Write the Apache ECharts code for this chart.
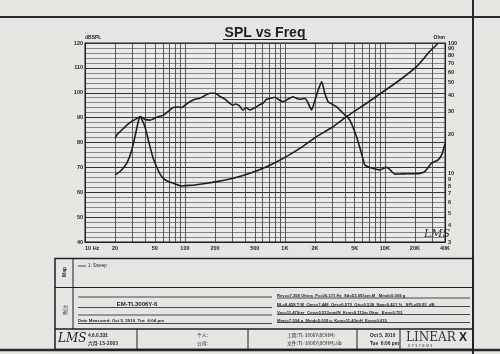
<!DOCTYPE html>
<html><head><meta charset="utf-8">
<script src="https://cdn.jsdelivr.net/npm/echarts@6/dist/echarts.min.js"></script>
<style>html,body{margin:0;padding:0;background:#e5e5e2;}#c{width:500px;height:354px;}</style>
</head><body><div id="c"></div>
<script>
// ---- data ----
const splFreq = [20,21,22.4,25,28.2,31,34.7,35.5,37.5,39.8,44.7,48,52,61,68,76,85,92.6,100,112,126,141,160,178,200,224,250,275,300,320,350,380,410,447,521,560,604,656,720,794,870,962,1080,1205,1300,1413,1585,1700,1849,2000,2150,2333,2500,2710,3000,3283,3600,3981,4467,5210,5834,6310,7000,7627,8913,10330,11000,12590,15000,20000,22390,25120,29200,34150,37000,40000];
const splDb = [81.7,83.3,84.3,86.2,88,89,90.1,90.4,90,89.3,89,89.4,90.1,91,92.5,94.1,94.3,94.1,95,96.4,97.4,97.8,99,99.8,99.8,98.5,97.5,96,95,95.5,94.8,93,94,93.1,94.4,95.2,95.8,97.4,97.8,98.2,97.2,96.4,97.5,98.4,97.8,97.4,97.8,96,93.1,97,101,104.4,100,96.4,95.3,94.4,92.8,91.1,89,82.3,75.7,71,70,69.6,69,70,69.5,67.3,67.4,67.5,67.6,68.3,71.6,73,75,79.5];
const zFreq = [20,22.4,26.1,29.4,31.6,34.1,35.5,37,39.8,42,44.7,48,52.1,56,60.7,68,76.4,92.6,100,126,160,207,304,447,656,962,1413,2075,3041,4140,6561,9616,14125,20749,28184,32885,34000];
const zOhm = [9.8,10.4,12,15.2,19.2,25,27.3,26,22.9,19.5,16.1,13.2,11.3,10,9.2,8.7,8.45,8.05,8.1,8.2,8.4,8.69,9.22,10.07,11.3,13.1,15.6,19.2,22.9,27.3,34.6,42.4,52.1,65.9,86.4,97,100];
const xGridFreqs = [10,20,30,40,50,60,70,80,90,100,200,300,400,500,600,700,800,900,1000,2000,3000,4000,5000,6000,7000,8000,9000,10000,20000,30000,40000];
const xLabelFreqs = [10,20,50,100,200,500,1000,2000,5000,10000,20000,40000];
const xLabelTexts = ['10 Hz','20','50','100','200','500','1K','2K','5K','10K','20K','40K'];
const ohmTicks = [3,4,5,6,7,8,9,10,20,30,40,50,60,70,80,90,100];

const ink = '#1e1e1e';
const FF = 'Liberation Sans, Arial, sans-serif';
const chart = echarts.init(document.getElementById('c'), null, {renderer:'canvas'});

function labelFor(v){
  let best = 0, bd = Infinity;
  xLabelFreqs.forEach((f,i)=>{const d=Math.abs(Math.log10(v)-Math.log10(f)); if(d<bd){bd=d;best=i;}});
  return xLabelTexts[best];
}
function T(x,y,text,size,extra){
  return Object.assign({type:'text', style:Object.assign({x:x,y:y,text:text,fill:ink,font:(extra&&extra.font)||('bold '+size+'px '+FF),textVerticalAlign:'middle'}, extra||{})}, {});
}
function L(x1,y1,x2,y2,w,c){
  return {type:'line', shape:{x1,y1,x2,y2}, style:{stroke:c||ink, lineWidth:w||1}};
}

const graphics = [
  L(0,17,500,17,2,'#2a2a2a'),
  L(473,0,473,354,2,'#2a2a2a'),
  L(0,350,500,350,2.5,'#2a2a2a'),
  // title
  T(265,33,'SPL vs Freq',14,{textAlign:'center'}),
  L(223,39.5,307,39.5,1.2),
  // plot logo
  T(424,234,'LMS',11,{font:'italic 11px DejaVu Serif, serif', fill:'#333'}),
  // table
  {type:'rect', shape:{x:55,y:258.5,width:418,height:91}, style:{stroke:ink, lineWidth:1.5, fill:'none'}},
  L(55,287.5,473,287.5,1.2),
  L(55,329,473,329,1.5),
  L(73,258.5,73,329,1),
  L(137,329,137,350,1), L(248,329,248,350,1), L(357,329,357,350,1), L(400,329,400,350,1),
  {type:'text', x:65, y:272, rotation:Math.PI/2, style:{x:0,y:0,text:'Map',fill:ink,font:'bold 5px '+FF,textAlign:'center',textVerticalAlign:'middle'}},
  {type:'text', x:65, y:310, rotation:Math.PI/2, style:{x:0,y:0,text:'附注',fill:ink,font:'5px Noto Sans CJK SC',textAlign:'center',textVerticalAlign:'middle'}},
  L(78,266,86,266,0.8),
  T(88,266,'1: Sweep',4.5,{font:'4.5px '+FF}),
  // notes left
  L(78,297,272,297,0.8),
  T(137,304,'EM-TL3006Y-6',6,{textAlign:'center'}),
  L(78,307.5,272,307.5,0.8),
  L(78,315,272,315,0.8),
  T(78,321,'Date Measured: Oct 5, 2010  Tue  6:04 pm',4.4),
  L(78,323.5,272,323.5,0.8),
  // notes right
  T(277,296,'Revc=7.358 Ohms  Fs=36.171 Hz  Sd=53.093cm.M   Mmd=5.009 g',4.2),
  L(277,298,470,298,0.8),
  T(277,304.5,'BL=8.458 T·M  Qms=7.448  Qes=0.579  Qts=0.538  Nao=0.421 %   SPL=89.93  dB',4.2),
  L(277,306.5,470,306.5,0.8),
  T(277,312.5,'Vas=11.47liter  Cms=0.513mm/N  Krm=0.113m Ohm   Erm=0.751',4.2),
  L(277,314.5,470,314.5,0.8),
  T(277,320.5,'Mms=7.034 g  Mmd=5.009 g  Kxm=11.43mH  Exm=0.615',4.2),
  L(277,322.5,470,322.5,0.8),
  // footer
  T(58,339,'LMS',12,{font:'italic 12px DejaVu Serif, serif'}),
  T(88,335.5,'4.6.0.331',4.8),
  T(88,343.5,'六月-15-2003',4.8,{font:'bold 4.8px Noto Sans CJK SC'}),
  T(197,335.5,'个人:',4.8,{font:'4.8px Noto Sans CJK SC'}),
  T(197,343.5,'公司:',4.8,{font:'4.8px Noto Sans CJK SC'}),
  T(287,335.5,'工程:TL-3006Y(8OHM)',4.8,{font:'4.8px Noto Sans CJK SC'}),
  T(287,343.5,'文件:TL-3006Y(8OHM).lib',4.8,{font:'4.8px Noto Sans CJK SC'}),
  T(370,335.5,'Oct 5, 2010',4.8),
  T(370,343.5,'Tue  6:06 pm',4.8),
  T(406,338,'LINEAR',12,{font:'12px DejaVu Serif, serif', fill:'#333'}),
  T(459,338,'X',12,{font:'bold 12px '+FF}),
  T(408,346.5,'S  Y  S  T  E  M  S',3,{font:'3px '+FF})
];

chart.setOption({
  backgroundColor:'#e5e5e2',
  animation:false,
  grid:{left:85,right:55,top:43,bottom:112,show:true,borderColor:ink,borderWidth:1,backgroundColor:'#e9e9e6'},
  xAxis:{
    type:'log', logBase:10, min:10, max:40000,
    axisLine:{show:true,lineStyle:{color:ink}},
    axisTick:{show:false, customValues:xGridFreqs},
    splitLine:{show:true,lineStyle:{color:'#4a4a4a',width:0.9}},
    minorSplitLine:{show:false},
    axisLabel:{customValues:xLabelFreqs, formatter:v=>labelFor(v), fontSize:5.5, fontWeight:'bold', color:ink, fontFamily:FF, margin:3, alignMinLabel:'left'}
  },
  yAxis:[
    {type:'value', min:40, max:120, interval:10, name:'dBSPL', nameLocation:'end', nameGap:3,
     nameTextStyle:{fontSize:5, fontWeight:'bold', color:ink, align:'left', fontFamily:FF},
     axisLine:{show:true,lineStyle:{color:ink}}, axisTick:{show:false},
     splitLine:{show:true,lineStyle:{color:'#333',width:1}},
     minorTick:{show:false,splitNumber:5},
     minorSplitLine:{show:true,lineStyle:{color:'#5a5a5a',width:0.7}},
     axisLabel:{fontSize:5.5,fontWeight:'bold',color:ink,fontFamily:FF,margin:2}},
    {type:'log', logBase:10, min:3, max:100, position:'right', name:'Ohm', nameLocation:'end', nameGap:3,
     nameTextStyle:{fontSize:5, fontWeight:'bold', color:ink, align:'right', fontFamily:FF},
     axisLine:{show:true,lineStyle:{color:ink}}, axisTick:{show:false, customValues:ohmTicks},
     splitLine:{show:false}, minorSplitLine:{show:false},
     axisLabel:{customValues:ohmTicks, fontSize:5.5, fontWeight:'bold', color:ink, fontFamily:FF, margin:3}}
  ],
  series:[
    {type:'line', name:'SPL', yAxisIndex:0, data:splFreq.map((f,i)=>[f,splDb[i]]), showSymbol:false, smooth:0.2,
     lineStyle:{color:ink,width:1.6}},
    {type:'line', name:'Impedance', yAxisIndex:1, data:zFreq.map((f,i)=>[f,zOhm[i]]), showSymbol:false, smooth:0.2,
     lineStyle:{color:ink,width:1.6}}
  ],
  graphic:graphics
});
</script></body></html>
